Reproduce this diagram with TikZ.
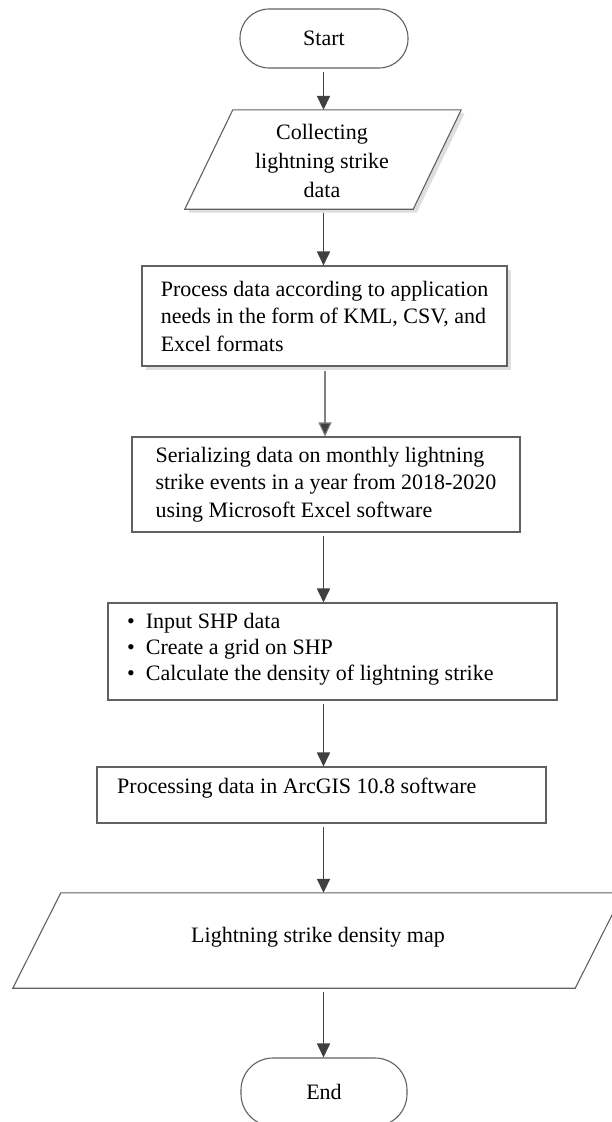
\documentclass[tikz,border=0pt]{standalone}
\usepackage{fontspec}
\setmainfont{Liberation Serif}
\usetikzlibrary{arrows.meta,calc,shadows}
\begin{document}
\begin{tikzpicture}[x=1pt,y=1pt,
  every node/.style={font=\fontsize{22}{27.5}\selectfont},
  boxline/.style={draw=black!62, line width=1.1pt},
  term/.style={boxline, rectangle, rounded corners=29pt, inner sep=0pt},
  frame/.style={boxline, rectangle, inner sep=0pt},
  ghost/.style={rectangle, inner sep=0pt},
  shadowed/.style={drop shadow={shadow xshift=3.5pt, shadow yshift=-3.5pt, fill=black!13, opacity=1}},
  flow/.style={draw=black!75, line width=1.8pt, -{Triangle[length=14pt,width=13pt]}, shorten <=3.5pt},
  flowlight/.style={draw=black!50, line width=1.1pt, -{Triangle[length=14pt,width=13pt,fill=black!75]}, shorten <=4pt},
  txt/.style={inner sep=0pt, align=left},
]
\useasboundingbox (0,0) rectangle (612,-1122);
\fill[white] (0,0) rectangle (612,-1122);
\coordinate (axis) at (323.5,0);

% Start
\node[term, minimum width=168, minimum height=59] (start) at (324,-38.5) {Start};

% Collecting (parallelogram)
\node[ghost, minimum width=276, minimum height=99] (col) at (323,-159.5) {};
\draw[boxline, fill=white, shadowed] ($(col.north west)+(48,0)$) -- (col.north east)
  -- ($(col.south east)+(-48,0)$) -- (col.south west) -- cycle;
\node[align=center, inner sep=0pt, font=\fontsize{22}{29}\selectfont] (coltext) at (322,-161) {Collecting\\lightning strike\\data};

% Process box
\node[frame, fill=white, shadowed, minimum width=365, minimum height=100, align=left] (proc) at (324.5,-316)
  {Process data according to application\\needs in the form of KML, CSV, and\\Excel formats};

% Serializing box
\node[frame, minimum width=388, minimum height=95, align=left] (ser) at (326,-484.5)
  {Serializing data on monthly lightning\\strike events in a year from 2018-2020\\using Microsoft Excel software};

% Bullet box
\node[frame, minimum width=449, minimum height=97] (bul) at (332.5,-651.5) {};
\node[txt, anchor=west, font=\fontsize{22}{26}\selectfont] (bultext) at (127,-649)
  {\textbullet\hspace{11pt}Input SHP data\\
   \textbullet\hspace{11pt}Create a grid on SHP\\
   \textbullet\hspace{11pt}Calculate the density of lightning strike};

% ArcGIS box
\node[frame, minimum width=449, minimum height=56] (arc) at (321.5,-795) {};
\node[txt, anchor=west] (arctext) at (117,-788) {Processing data in ArcGIS 10.8 software};

% Map (parallelogram)
\node[ghost, minimum width=610, minimum height=95] (map) at (318,-940.5) {};
\draw[boxline, fill=white] ($(map.north west)+(48,0)$) -- (map.north east)
  -- ($(map.south east)+(-48,0)$) -- (map.south west) -- cycle;
\node[inner sep=0pt] (maptext) at (318,-937) {Lightning strike density map};

% End
\node[term, rounded corners=32pt, minimum width=166, minimum height=68] (end) at (324,-1092) {End};

% Connectors
\draw[flow] (start.south -| axis) -- (col.north -| axis);
\draw[flow] (col.south -| axis) -- (proc.north -| axis);
\draw[flowlight] ($(proc.south -| axis)+(1.5,0)$) -- ($(ser.north -| axis)+(1.5,0)$);
\draw[flow] (ser.south -| axis) -- (bul.north -| axis);
\draw[flow] (bul.south -| axis) -- (arc.north -| axis);
\draw[flow] (arc.south -| axis) -- (map.north -| axis);
\draw[flow] (map.south -| axis) -- (end.north -| axis);
\end{tikzpicture}
\end{document}
